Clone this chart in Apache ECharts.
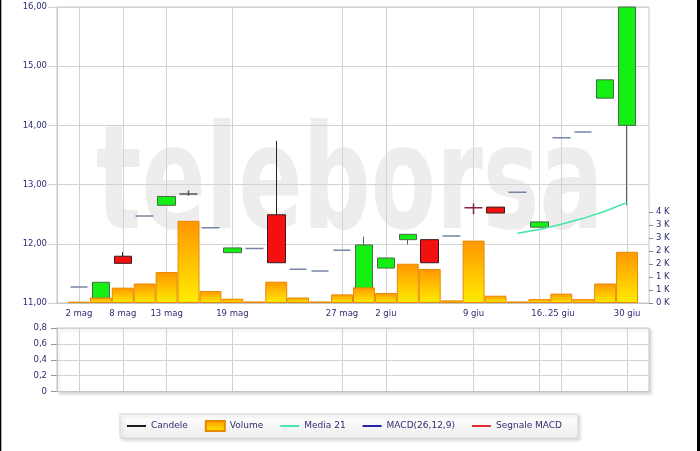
<!DOCTYPE html>
<html><head><meta charset="utf-8">
<script src="https://cdn.jsdelivr.net/npm/echarts@6/dist/echarts.min.js"></script>
<style>html,body{margin:0;padding:0;background:#fff}#c{width:700px;height:451px}</style>
</head><body><div id="c"></div>
<script>
// ---- data ----
const dayLabels = ['2 mag','','8 mag','','13 mag','','','19 mag','','','','','27 mag','','2 giu','','','','9 giu','','','16..','25 giu','','','30 giu'];
const openP  = [11.27,11.08,11.79,12.47,12.65,12.84,12.27,11.85,11.92,12.49,11.57,11.54,11.89,11.22,11.59,12.07,12.07,12.13,12.61,12.62,12.87,12.28,13.79,13.89,14.46,14.00];
const closeP = [11.27,11.35,11.67,12.47,12.80,12.84,12.27,11.93,11.92,11.68,11.57,11.54,11.89,11.98,11.76,12.16,11.68,12.13,12.61,12.52,12.87,12.37,13.79,13.89,14.77,16.00];
const lowP   = [11.27,11.08,11.67,12.47,12.65,12.81,12.27,11.85,11.92,11.68,11.57,11.54,11.89,11.22,11.59,11.99,11.68,12.13,12.50,12.52,12.87,12.28,13.79,13.89,14.46,12.65];
const highP  = [11.27,11.35,11.86,12.47,12.80,12.90,12.27,11.93,11.92,13.74,11.57,11.54,11.89,12.12,11.76,12.16,12.07,12.13,12.68,12.62,12.87,12.37,13.79,13.89,14.77,16.00];
const volume = [50,210,590,750,1190,3160,460,165,60,820,210,60,330,600,385,1510,1310,100,2400,280,60,150,360,150,750,1970];
const media21 = [null,null,null,null,null,null,null,null,null,null,null,null,null,null,null,null,null,null,null,null,12.18,12.24,12.33,12.43,12.55,12.70];
const priceTicks = [11,16,1];      // min, max, step
const volTicks = [0,3500,500];
const macdTicks = [0,0.8,0.2];
const legendNames = ['Candele','Volume','Media 21','MACD(26,12,9)','Segnale MACD'];

// ---- build ----
const n = dayLabels.length;
const cats = ['s'].concat(dayLabels.map((_, i) => 'd' + i)).concat(['e']);
const pad = a => ['-'].concat(a.map(v => v == null ? '-' : v)).concat(['-']);
const lab = i => (i >= 1 && i <= n) ? dayLabels[i - 1] : '';
const showIdx = i => lab(i) !== '';

const navy = '#2d2d72';
const FONT = 'DejaVu Sans';
const gridCol = '#d2d2d2';
const frameCol = '#c6c6c6';

const candleData = [{value: '-'}];
for (let i = 0; i < n; i++) {
  const item = {value: [openP[i], closeP[i], lowP[i], highP[i]]};
  if (openP[i] === closeP[i]) {
    let c = '#7784a6';
    if (highP[i] !== lowP[i]) c = (i === 18) ? '#8a2444' : '#555555';
    item.itemStyle = {color: c, color0: c, borderColor: c, borderColor0: c, borderColorDoji: c, borderWidth: 1.5};
  }
  candleData.push(item);
}
candleData.push({value: '-'});

const line = 'path://M0,0h20v2h-20z';
const chart = echarts.init(document.getElementById('c'), null, {renderer: 'canvas'});
chart.setOption({
  animation: false,
  backgroundColor: '#fff',
  textStyle: {fontFamily: FONT},
  graphic: [
    {type: 'text', x: 96, y: 190, z: -10, scaleX: 0.655, silent: true,
     style: {text: 'teleborsa', font: 'bold 145px "DejaVu Sans"', fill: '#ededed', textAlign: 'left', textVerticalAlign: 'middle'}},
    {type: 'rect', shape: {x: 0, y: 0, width: 1.3, height: 451}, style: {fill: '#000'}, silent: true},
    {type: 'rect', shape: {x: 697, y: 0, width: 3, height: 451}, style: {fill: '#000'}, silent: true}
  ],
  legend: {
    left: 120, top: 414, orient: 'horizontal',
    itemWidth: 19, itemHeight: 10, itemGap: 17,
    padding: [6, 16, 6, 7],
    backgroundColor: new echarts.graphic.LinearGradient(0, 0, 0, 1, [{offset: 0, color: '#ffffff'}, {offset: 1, color: '#eeeeee'}]),
    borderColor: '#d6d6d6', borderWidth: 1,
    shadowColor: 'rgba(0,0,0,0.15)', shadowBlur: 3, shadowOffsetX: 2, shadowOffsetY: 2,
    textStyle: {fontSize: 9, color: navy, fontFamily: FONT},
    data: [
      {name: legendNames[0], icon: line, itemStyle: {color: '#111111', borderWidth: 0}},
      {name: legendNames[1], icon: 'rect'},
      {name: legendNames[2], icon: line},
      {name: legendNames[3], icon: line},
      {name: legendNames[4], icon: line}
    ]
  },
  grid: [
    {left: 57, right: 51, top: 7, height: 296, show: true, borderColor: frameCol, borderWidth: 1},
    {left: 57, right: 51, top: 212, height: 91},
    {left: 57, right: 51, top: 328, height: 63.5, show: true, borderColor: frameCol, borderWidth: 1,
     backgroundColor: '#fff', shadowColor: 'rgba(0,0,0,0.15)', shadowBlur: 3, shadowOffsetX: 2, shadowOffsetY: 2}
  ],
  xAxis: [
    {type: 'category', gridIndex: 0, data: cats, boundaryGap: false,
     axisLine: {lineStyle: {color: frameCol}}, axisTick: {show: false},
     axisLabel: {interval: (i) => showIdx(i), formatter: (v, i) => lab(i), margin: 6, fontSize: 8.5, color: navy, fontFamily: FONT},
     splitLine: {show: true, interval: (i) => showIdx(i), lineStyle: {color: gridCol}}},
    {type: 'category', gridIndex: 1, data: cats, boundaryGap: false, show: false},
    {type: 'category', gridIndex: 2, data: cats, boundaryGap: false,
     axisLine: {lineStyle: {color: frameCol}}, axisTick: {show: false}, axisLabel: {show: false},
     splitLine: {show: true, interval: (i) => showIdx(i), lineStyle: {color: gridCol}}}
  ],
  yAxis: [
    {type: 'value', gridIndex: 0, min: priceTicks[0], max: priceTicks[1], interval: priceTicks[2],
     axisLine: {show: true, lineStyle: {color: frameCol}}, axisTick: {show: true, length: 9, lineStyle: {color: gridCol}},
     axisLabel: {formatter: v => v.toFixed(2).replace('.', ','), margin: 10, fontSize: 8.5, color: navy, fontFamily: FONT},
     splitLine: {lineStyle: {color: gridCol}}},
    {type: 'value', gridIndex: 1, position: 'right', min: volTicks[0], max: volTicks[1], interval: volTicks[2],
     axisLine: {show: false}, axisTick: {show: true, length: 4, lineStyle: {color: '#888'}},
     axisLabel: {formatter: v => Math.round(v / 1000) + ' K', margin: 7, fontSize: 8.5, color: navy, fontFamily: FONT},
     splitLine: {show: false}},
    {type: 'value', gridIndex: 2, min: macdTicks[0], max: macdTicks[1], interval: macdTicks[2],
     axisLine: {show: true, lineStyle: {color: frameCol}}, axisTick: {show: true, length: 6, lineStyle: {color: '#999'}},
     axisLabel: {formatter: v => v === 0 ? '0' : v.toFixed(1).replace('.', ','), margin: 10, fontSize: 8.5, color: navy, fontFamily: FONT},
     splitLine: {lineStyle: {color: gridCol}}}
  ],
  series: [
    {name: legendNames[0], type: 'candlestick', xAxisIndex: 0, yAxisIndex: 0, barWidth: 18, z: 2,
     itemStyle: {color: '#14f014', color0: '#f41010', borderColor: '#4a6a4a', borderColor0: '#3a1c1c', borderWidth: 1},
     data: candleData},
    {name: legendNames[1], type: 'bar', xAxisIndex: 1, yAxisIndex: 1, barWidth: '100%', z: 3,
     itemStyle: {color: new echarts.graphic.LinearGradient(0, 0, 0, 1, [{offset: 0, color: '#ff9600'}, {offset: 1, color: '#ffec00'}]),
                 borderColor: '#e88a00', borderWidth: 1},
     data: pad(volume)},
    {name: legendNames[2], type: 'line', xAxisIndex: 0, yAxisIndex: 0, z: 4, symbol: 'none', color: '#42e6a2',
     lineStyle: {width: 1.5, color: '#42e6a2'}, data: pad(media21)},
    {name: legendNames[3], type: 'line', xAxisIndex: 2, yAxisIndex: 2, symbol: 'none', color: '#1a1aa8', data: []},
    {name: legendNames[4], type: 'line', xAxisIndex: 2, yAxisIndex: 2, symbol: 'none', color: '#e02222', data: []}
  ]
});
</script></body></html>
